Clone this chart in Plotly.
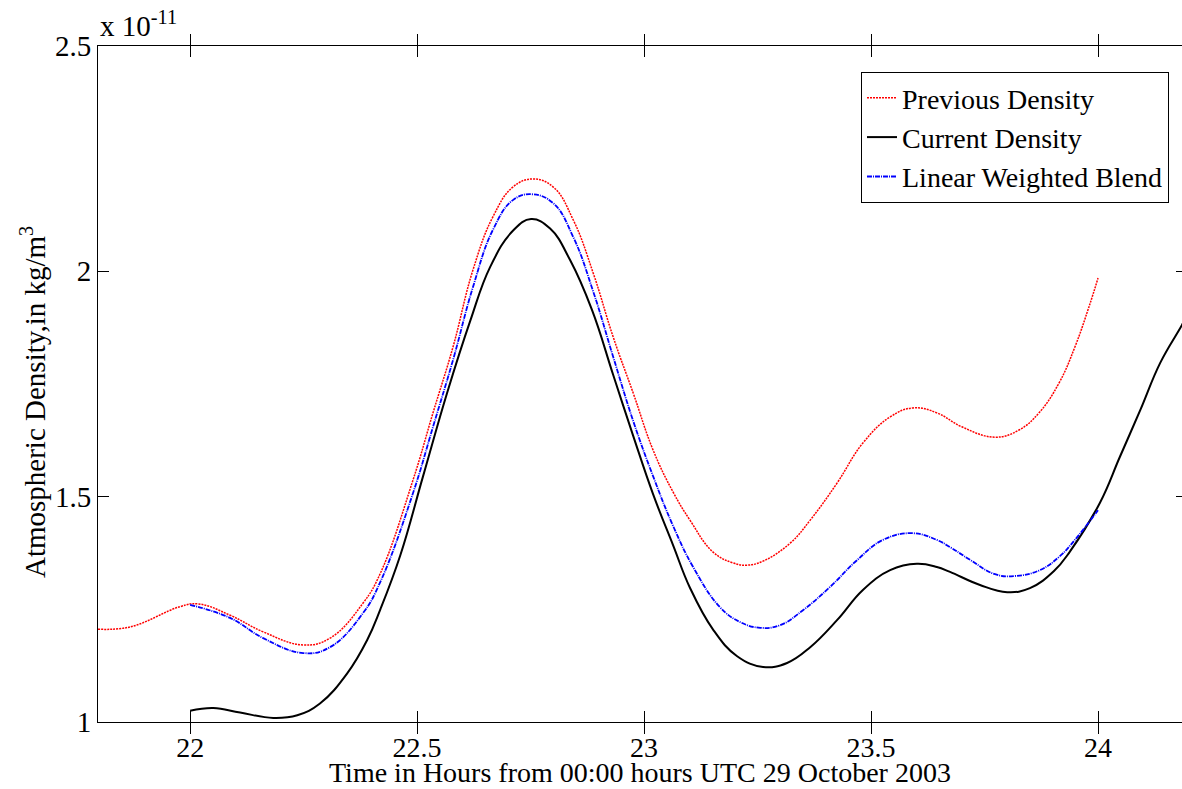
import plotly.graph_objects as go

# Time axis (hours from 00:00 UTC, 29 Oct 2003) and densities in units of 1e-11 kg/m^3
prev_hours = [21.797, 21.868, 21.978, 22.018, 22.088, 22.161, 22.249, 22.308, 22.381, 22.419,
              22.491, 22.535, 22.579, 22.623, 22.667, 22.711, 22.755, 22.800, 22.844, 22.888,
              22.932, 22.976, 23.020, 23.064, 23.101, 23.152, 23.196, 23.227, 23.262, 23.322,
              23.366, 23.425, 23.482, 23.542, 23.593, 23.645, 23.700, 23.773, 23.826, 23.870,
              23.914, 23.949, 23.980, 24.000]
prev_density = [1.206, 1.211, 1.256, 1.262, 1.237, 1.200, 1.171, 1.186, 1.264, 1.330,
                1.537, 1.686, 1.832, 2.003, 2.121, 2.187, 2.205, 2.187, 2.114, 1.996,
                1.854, 1.730, 1.603, 1.510, 1.448, 1.377, 1.353, 1.348, 1.357, 1.397,
                1.448, 1.530, 1.619, 1.677, 1.697, 1.686, 1.655, 1.632, 1.648, 1.686,
                1.752, 1.832, 1.921, 1.985]

curr_hours = [22.000, 22.051, 22.110, 22.183, 22.236, 22.286, 22.346, 22.390, 22.419, 22.463,
              22.513, 22.566, 22.617, 22.661, 22.711, 22.751, 22.793, 22.837, 22.885, 22.932,
              22.976, 23.020, 23.064, 23.101, 23.152, 23.205, 23.262, 23.315, 23.366, 23.425,
              23.482, 23.542, 23.601, 23.645, 23.674, 23.740, 23.800, 23.850, 23.903, 23.938,
              24.004, 24.048, 24.093, 24.137, 24.185, 24.200]
curr_density = [1.025, 1.031, 1.021, 1.009, 1.015, 1.041, 1.108, 1.182, 1.250, 1.370,
                1.545, 1.730, 1.890, 2.010, 2.090, 2.116, 2.095, 2.025, 1.915, 1.770,
                1.635, 1.505, 1.392, 1.298, 1.205, 1.146, 1.122, 1.131, 1.166, 1.226,
                1.293, 1.337, 1.351, 1.344, 1.333, 1.304, 1.288, 1.297, 1.335, 1.378,
                1.486, 1.588, 1.692, 1.797, 1.881, 1.910]

blend_hours = [22.000, 22.088, 22.161, 22.249, 22.308, 22.381, 22.419, 22.491, 22.535, 22.579,
               22.623, 22.667, 22.711, 22.753, 22.800, 22.844, 22.888, 22.932, 22.976, 23.020,
               23.064, 23.108, 23.167, 23.211, 23.256, 23.300, 23.350, 23.410, 23.469, 23.526,
               23.590, 23.645, 23.674, 23.718, 23.773, 23.817, 23.872, 23.916, 23.949, 24.000]
blend_density = [1.260, 1.231, 1.186, 1.153, 1.166, 1.242, 1.311, 1.508, 1.655, 1.803,
                 1.965, 2.092, 2.158, 2.171, 2.151, 2.076, 1.955, 1.810, 1.668, 1.545,
                 1.435, 1.344, 1.255, 1.222, 1.209, 1.215, 1.248, 1.300, 1.359, 1.404,
                 1.419, 1.404, 1.388, 1.360, 1.328, 1.324, 1.337, 1.368, 1.404, 1.470]

x_ticks = [22, 22.5, 23, 23.5, 24]
y_ticks = [1, 1.5, 2, 2.5]
y_tick_labels = ["1", "1.5", "2", "2.5"]

FONT = "Liberation Serif, Times New Roman, serif"
FS = 29

fig = go.Figure()
fig.add_trace(go.Scatter(x=prev_hours, y=prev_density, mode="lines", name="Previous Density",
                         line=dict(color="#ff0000", width=1.5, dash="2px,1px", shape="spline", smoothing=1.2)))
fig.add_trace(go.Scatter(x=curr_hours, y=curr_density, mode="lines", name="Current Density",
                         line=dict(color="#000000", width=2, shape="spline", smoothing=1.2)))
fig.add_trace(go.Scatter(x=blend_hours, y=blend_density, mode="lines", name="Linear Weighted Blend",
                         line=dict(color="#0000ff", width=1.8, dash="5px,1px,1px,1px", shape="spline", smoothing=1.2)))
# transparent helper trace so the right-hand tick axis is drawn
fig.add_trace(go.Scatter(x=[x_ticks[0]], y=[y_ticks[0]], yaxis="y2", mode="markers",
                         marker=dict(opacity=0), showlegend=False, hoverinfo="skip"))

fig.update_layout(
    width=1182, height=789,
    margin=dict(l=98, r=0, t=46, b=67),
    paper_bgcolor="white", plot_bgcolor="white",
    font=dict(family=FONT, size=FS, color="black"),
    showlegend=True,
    legend=dict(x=(1169 - 98) / 1084, xanchor="right", y=1 - (72 - 46) / 676, yanchor="top",
                bgcolor="white", bordercolor="black", borderwidth=1,
                font=dict(family=FONT, size=28, color="black"),
                tracegroupgap=0, itemwidth=30),
    xaxis=dict(range=[21.797, 24.185], tickvals=x_ticks, ticktext=[str(v) for v in x_ticks],
               showgrid=False, zeroline=False, showline=True, linecolor="black", linewidth=1,
               mirror="allticks", ticks="inside", ticklen=11, tickcolor="black",
               tickfont=dict(family=FONT, size=28)),
    yaxis=dict(range=[1, 2.5], tickvals=y_ticks, ticktext=y_tick_labels,
               showgrid=False, zeroline=False, showline=True, linecolor="black", linewidth=1,
               mirror=False, ticks="inside", ticklen=11, tickcolor="black",
               tickfont=dict(family=FONT, size=FS)),
    yaxis2=dict(range=[1, 2.5], overlaying="y", side="right", tickvals=y_ticks,
                showticklabels=False, showgrid=False, zeroline=False, showline=False,
                ticks="inside", ticklen=6, tickcolor="black"),
    annotations=[
        dict(text="x 10<sup>-11</sup>", xref="paper", yref="paper", x=0, xanchor="left",
             y=1 + (46 - 44) / 676, yanchor="bottom", showarrow=False,
             font=dict(family=FONT, size=FS)),
        dict(text="Time in Hours from 00:00 hours UTC 29 October 2003", xref="paper", yref="paper",
             x=0.5, xanchor="center", y=-(789 - 722) / 676, yanchor="bottom", borderpad=0,
             showarrow=False, font=dict(family=FONT, size=28)),
        dict(text="Atmospheric Density,in kg/m<sup>3</sup>", xref="paper", yref="paper",
             x=(33 - 98) / 1084, xanchor="center", y=(722 - 402) / 676, yanchor="middle",
             textangle=-90, showarrow=False, font=dict(family=FONT, size=FS)),
    ],
)

fig.write_html("out.html")
